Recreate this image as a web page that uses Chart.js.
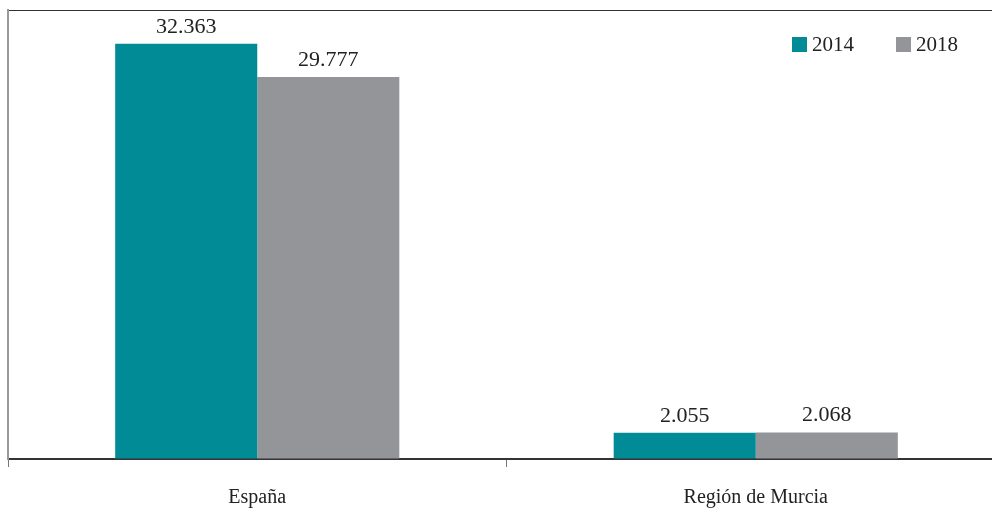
<!DOCTYPE html>
<html>
<head>
<meta charset="utf-8">
<script src="https://cdn.jsdelivr.net/npm/chart.js@4/dist/chart.umd.min.js"></script>
<style>
  html, body { margin: 0; padding: 0; background: #fff; overflow: hidden; }
  #wrap { position: relative; width: 1005px; height: 531px; }
  #legend { position: absolute; left: 792px; top: 32px; display: flex; font-family: "Liberation Serif", serif; font-size: 21px; color: #222; }
  .item { display: flex; align-items: center; margin-right: 42px; }
  .box { width: 15px; height: 15px; margin-right: 5px; }
</style>
</head>
<body>
<div id="wrap">
  <canvas id="chart" width="1005" height="531"></canvas>
  <div id="legend"></div>
</div>
<script>
// valores en miles
const categories = ['España', 'Región de Murcia'];
const seriesNames = ['2014', '2018'];
const values2014 = [32.363, 2.055];
const values2018 = [29.777, 2.068];
const yMax = 35;

const COLORS = ['#008b96', '#949599'];

const valueLabels = {
    id: 'valueLabels',
    afterDatasetsDraw(chart) {
        const ctx = chart.ctx;
        ctx.save();
        ctx.font = '22px "Liberation Serif", serif';
        ctx.fillStyle = '#222';
        ctx.textAlign = 'center';
        ctx.textBaseline = 'alphabetic';
        chart.data.datasets.forEach((ds, i) => {
            chart.getDatasetMeta(i).data.forEach((bar, j) => {
                ctx.fillText(ds.data[j].toFixed(3), bar.x, bar.y - 11);
            });
        });
        ctx.restore();
    }
};

const chart = new Chart(document.getElementById('chart'), {
    type: 'bar',
    data: {
        labels: categories,
        datasets: [
            { label: seriesNames[0], data: values2014, backgroundColor: COLORS[0] },
            { label: seriesNames[1], data: values2018, backgroundColor: COLORS[1] }
        ]
    },
    options: {
        responsive: false,
        animation: false,
        layout: { padding: { left: 8, top: 10, right: 0, bottom: 2 } },
        plugins: { legend: { display: false }, tooltip: { enabled: false } },
        datasets: { bar: { categoryPercentage: 0.57, barPercentage: 1 } },
        scales: {
            x: {
                grid: { drawOnChartArea: false, tickLength: 8, color: '#777' },
                border: { display: true, color: '#333', width: 2 },
                ticks: { color: '#222', padding: 19, font: { family: '"Liberation Serif", serif', size: 20 } }
            },
            y: {
                min: 0,
                max: yMax,
                ticks: { display: false, stepSize: 35 },
                grid: {
                    drawTicks: false,
                    color: c => (c.tick && c.tick.value === yMax) ? '#333' : 'rgba(0,0,0,0)'
                },
                border: { display: true, color: '#999', width: 2 }
            }
        }
    },
    plugins: [valueLabels]
});

const legend = document.getElementById('legend');
seriesNames.forEach((name, i) => {
    legend.innerHTML += `<div class="item"><span class="box" style="background:${COLORS[i]}"></span>${name}</div>`;
});
</script>
</body>
</html>
